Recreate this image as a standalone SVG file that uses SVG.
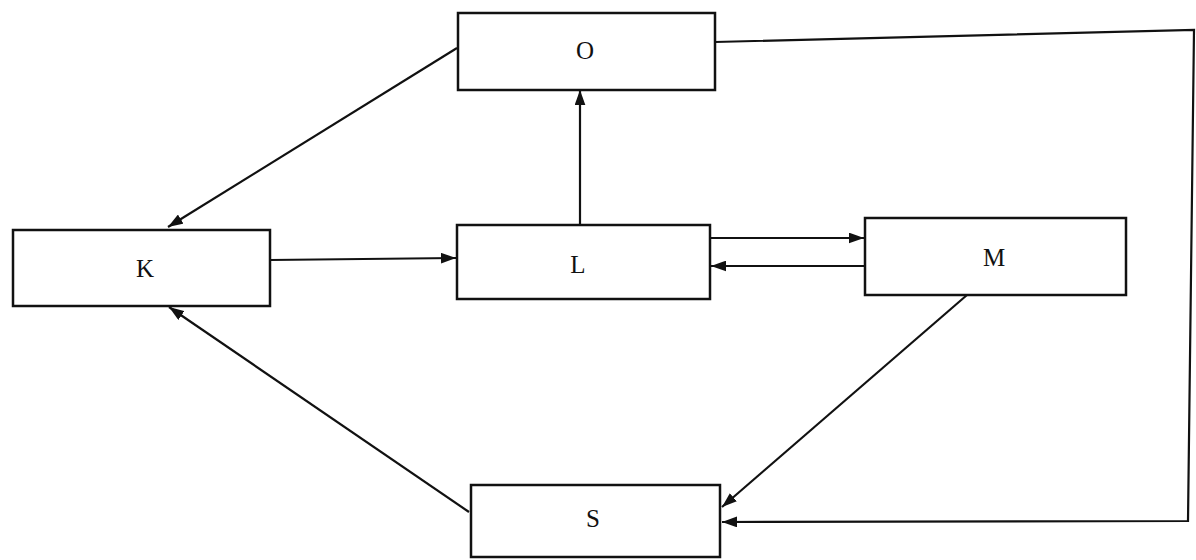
<svg xmlns="http://www.w3.org/2000/svg" width="1196" height="560" viewBox="0 0 1196 560">
<defs>
<marker id="ah" viewBox="0 0 14 10" refX="14" refY="5" markerWidth="15" markerHeight="11" markerUnits="userSpaceOnUse" orient="auto">
<path d="M0,0 L14,5 L0,10 z" fill="#111"/>
</marker>
<style>
.box{fill:#fff;stroke:#111;stroke-width:2.5}
.lbl{font-family:"Liberation Serif",serif;font-size:25px;fill:#111;text-anchor:middle;dominant-baseline:central}
.ln{fill:none;stroke:#111;stroke-width:2.2}
.ar{marker-end:url(#ah)}
</style>
</defs>
<rect width="1196" height="560" fill="#fff"/>
<g id="connectors">
<line class="ln ar" x1="457" y1="48" x2="168" y2="227"/>
<line class="ln ar" x1="270" y1="260" x2="456" y2="258"/>
<line class="ln ar" x1="580" y1="225" x2="580" y2="90"/>
<line class="ln ar" x1="710" y1="238" x2="864" y2="238"/>
<line class="ln ar" x1="865" y1="266" x2="711" y2="266"/>
<line class="ln ar" x1="967" y1="295" x2="722" y2="507"/>
<polyline class="ln ar" points="715,42 1194,30 1188,521 722,522"/>
<line class="ln ar" x1="469" y1="512" x2="169" y2="307"/>
</g>
<g id="node-O"><rect class="box" x="458" y="13" width="257" height="77"/><text class="lbl" x="585" y="50">O</text></g>
<g id="node-K"><rect class="box" x="13" y="230" width="257" height="76"/><text class="lbl" x="145" y="268">K</text></g>
<g id="node-L"><rect class="box" x="457" y="225" width="253" height="74"/><text class="lbl" x="578" y="264">L</text></g>
<g id="node-M"><rect class="box" x="865" y="218" width="261" height="77"/><text class="lbl" x="994" y="257">M</text></g>
<g id="node-S"><rect class="box" x="471" y="485" width="249" height="72"/><text class="lbl" x="593" y="518">S</text></g>
</svg>
